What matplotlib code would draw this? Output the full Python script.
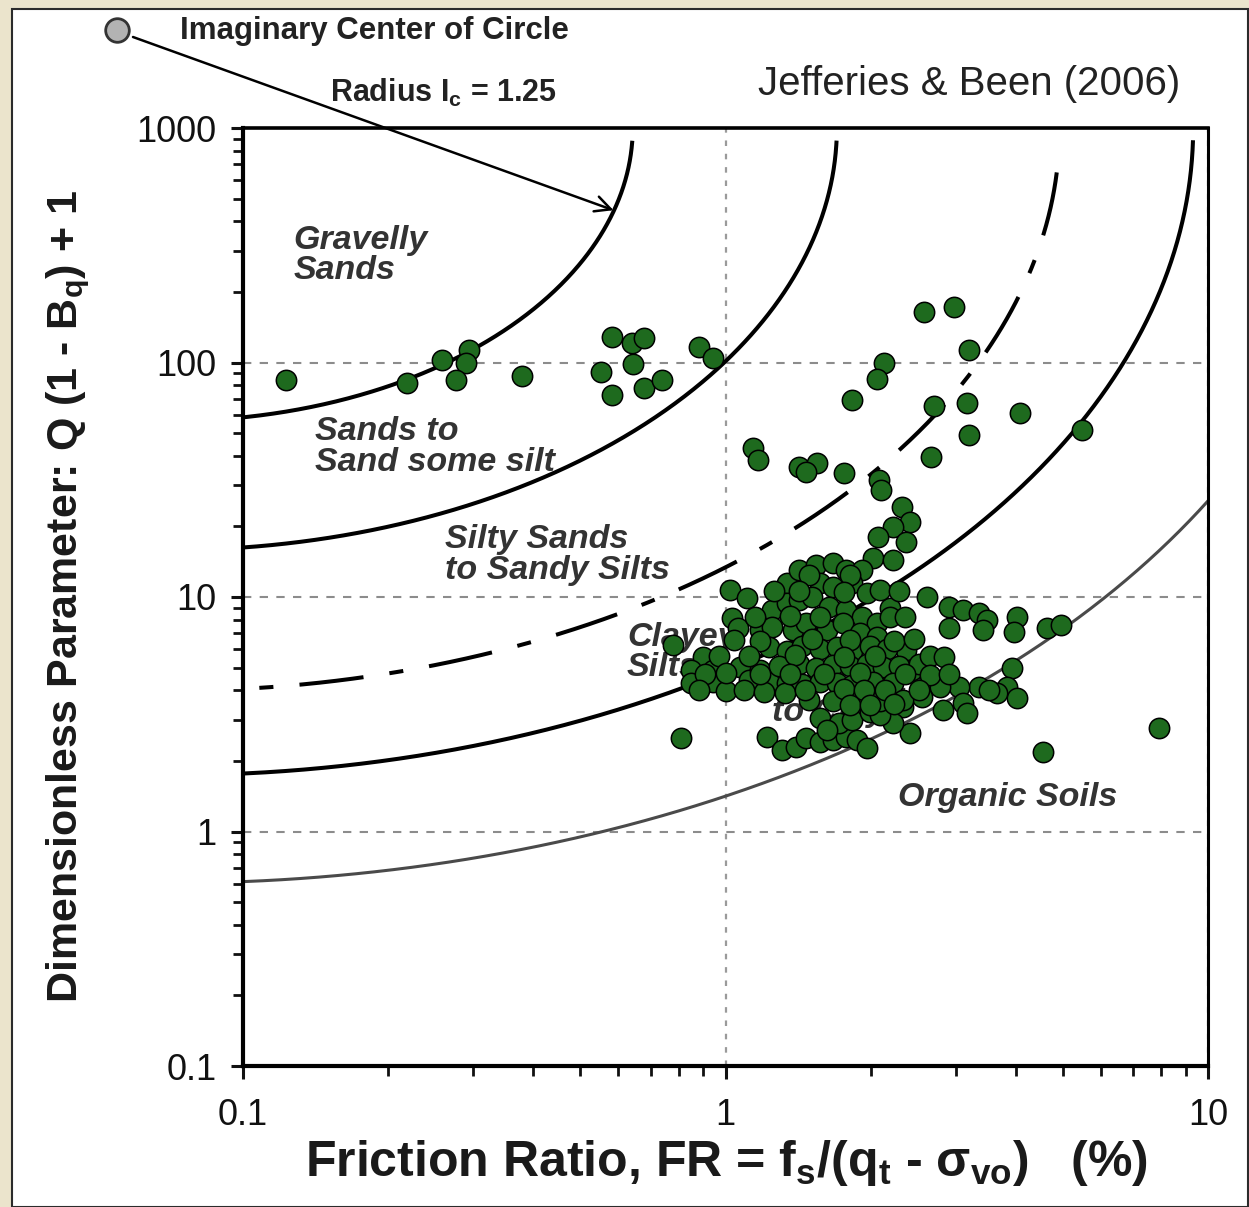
import numpy as np
import matplotlib.pyplot as plt
from matplotlib.patches import Rectangle
from matplotlib.ticker import FuncFormatter, NullFormatter

plt.rcParams['font.family'] = ['Liberation Sans', 'DejaVu Sans']
plt.rcParams['mathtext.fontset'] = 'custom'
plt.rcParams['mathtext.rm'] = 'Liberation Sans:bold'
plt.rcParams['mathtext.it'] = 'Liberation Sans:bold'
plt.rcParams['mathtext.bf'] = 'Liberation Sans:bold'
plt.rcParams['mathtext.default'] = 'rm'

# Soil behaviour type boundaries, Ic (Jefferies & Been 2006)
ic_solid = [1.25, 1.80, 2.76]
ic_dashdot = 2.40
ic_organic = 3.22

# CPT points: friction ratio FR (%) and Q(1 - Bq) + 1
friction_ratio = [
    # sands, Q around 100
    0.123, 0.219, 0.259, 0.294, 0.290, 0.277, 0.378, 0.581, 0.639, 0.679,
    0.642, 0.553, 0.583, 0.679, 0.737, 0.883, 0.940,
    # upper right scatter
    2.58, 2.98, 3.20, 2.13, 2.06, 1.83, 2.71, 3.16, 4.07, 5.47,
    3.19, 2.66, 1.14, 1.17, 1.42, 1.55, 1.47, 1.76, 2.08, 2.10,
    2.32, 2.41, 2.22, 2.07, 2.37, 2.02, 2.22,
    # right side of the cluster
    2.19, 2.61, 2.91, 3.10, 3.36, 3.48, 2.91, 3.41, 4.01, 3.97,
    4.63, 4.97, 3.92, 3.84, 4.01, 3.65, 3.36, 3.05, 2.78, 3.10,
    2.82, 2.56, 3.16, 2.37, 2.44, 2.22, 2.33, 2.41, 2.22, 4.54, 7.93,
    # lower edge
    0.81, 1.22, 1.31, 1.40, 1.47, 1.57, 1.67, 1.78, 1.87, 1.96,
    1.57, 1.72, 1.83, 1.62, 1.99, 2.09,
    # left edge
    1.02, 1.11, 1.03, 1.06, 1.18, 0.78, 0.90, 0.85, 0.94, 0.85,
    0.94, 1.07, 1.12, 1.18, 1.23,
    # cluster core
    1.34, 1.42, 1.54, 1.67, 1.78, 1.92, 1.57, 1.67, 1.83, 1.96,
    1.25, 1.34, 1.42, 1.51, 1.64, 1.78, 1.92, 2.06, 1.25, 1.38,
    1.47, 1.62, 1.75, 1.90, 2.06,
    1.23, 1.34, 1.44, 1.57, 1.70, 1.83, 1.99, 2.16,
    1.29, 1.42, 1.54, 1.67, 1.81, 1.96, 2.12, 2.29, 2.52,
    1.34, 1.44, 1.57, 1.70, 1.83, 2.02, 2.22,
    1.49, 1.67, 1.87, 2.09, 2.33,
    1.00, 1.09, 1.20, 1.33,
    1.49, 1.81,
    1.26, 1.42, 1.76, 2.09, 2.29,
    1.15, 1.36, 1.57, 2.19, 2.35,
    1.04, 1.18, 1.51, 1.81, 2.24, 2.46,
    0.97, 1.12, 1.39, 1.76, 2.04, 2.65, 2.84,
    0.905, 1.00, 1.18, 1.36, 1.60, 1.90, 2.35, 2.65, 2.91,
    0.883, 1.46, 1.76, 1.94, 2.14, 2.52, 3.52,
    1.81, 1.99, 2.24,
]
q_norm = [
    84, 82, 102, 113, 100, 84, 88, 128, 121, 127,
    99, 91, 73, 78, 84, 116, 105,
    164, 172, 113, 100, 85, 69, 65, 67, 61, 51.5,
    49, 39.5, 43, 38.4, 35.8, 37.2, 34.1, 33.8, 31.5, 28.6,
    24.2, 20.9, 19.9, 18.0, 17.2, 14.7, 14.4,
    9.0, 10.0, 9.07, 8.8, 8.55, 7.98, 7.38, 7.23, 8.22, 7.09,
    7.38, 7.6, 4.98, 4.14, 3.71, 3.9, 4.14, 4.14, 4.14, 3.53,
    3.3, 3.75, 3.21, 5.95, 4.89, 4.43, 3.4, 2.63, 2.9, 2.19, 2.77,
    2.51, 2.53, 2.23, 2.30, 2.51, 2.41, 2.46, 2.53, 2.46, 2.27,
    3.05, 2.90, 2.99, 2.71, 3.24, 3.14,
    10.7, 9.9, 8.14, 7.38, 7.23, 6.24, 5.55, 4.89, 4.89, 4.30,
    4.35, 5.03, 4.43, 4.89, 4.35,
    11.5, 13.0, 13.7, 14.0, 13.0, 13.0, 11.5, 11.0, 11.5, 10.4,
    8.8, 9.43, 9.71, 10.0, 9.07, 8.8, 8.22, 7.75, 7.45, 7.23,
    7.75, 7.23, 7.75, 7.03, 6.76,
    6.1, 5.9, 6.2, 6.0, 6.1, 5.9, 6.2, 6.0,
    5.1, 5.2, 5.0, 5.15, 5.1, 5.2, 5.05, 5.1, 5.2,
    4.3, 4.25, 4.35, 4.3, 4.2, 4.35, 4.3,
    3.65, 3.6, 3.7, 3.6, 3.65,
    3.98, 4.0, 3.95, 3.9,
    12.4, 12.4,
    10.6, 10.6, 10.5, 10.7, 10.6,
    8.2, 8.3, 8.2, 8.25, 8.2,
    6.56, 6.5, 6.6, 6.55, 6.5, 6.6,
    5.61, 5.6, 5.65, 5.55, 5.6, 5.6, 5.55,
    4.7, 4.72, 4.68, 4.7, 4.7, 4.75, 4.7, 4.65, 4.7,
    4.02, 4.0, 4.05, 4.0, 4.02, 4.0, 4.02,
    3.47, 3.45, 3.5,
]

x_ticks = [0.1, 1, 10]
y_ticks = [0.1, 1, 10, 100, 1000]

zones = [
    ("Gravelly\nSands", 0.052, 0.864),
    ("Sands to\nSand some silt", 0.075, 0.660),
    ("Silty Sands\nto Sandy Silts", 0.209, 0.545),
    ("Clayey\nSilts", 0.398, 0.441),
    ("Silty Clays\nto Clay", 0.548, 0.393),
    ("Organic Soils", 0.679, 0.286),
]

W, H = 1249, 1207


def fxy(x, y):
    # pixel position -> figure fraction
    return x / W, 1 - y / H


def ic_boundary(ic, q_top=870.0):
    t = np.linspace(0, np.pi / 2, 500)
    u = ic * np.sin(t)
    v = ic * np.cos(t)
    log_f = (u - 1.5) / 1.3
    log_q = 3.0 - v
    keep = log_q <= np.log10(q_top)
    return 10 ** log_f[keep], 10 ** log_q[keep]


fig = plt.figure(figsize=(W / 100, H / 100), dpi=100)
fig.patch.set_facecolor('#ebe4cc')
fig.add_artist(Rectangle((12 / W, 0), (W - 13) / W, 1 - 9 / H,
                         transform=fig.transFigure, facecolor='white',
                         edgecolor='#2b2b2b', lw=1.5, zorder=-1))

ax = fig.add_axes([243 / W, 1 - 1066 / H, 965 / W, 938 / H])
ax.set_xscale('log')
ax.set_yscale('log')
ax.set_xlim(0.1, 10)
ax.set_ylim(0.1, 1000)

ax.grid(True, which='major', axis='y', ls=(0, (4, 4)), color='#8c8c8c', lw=1.5)
ax.grid(True, which='major', axis='x', ls=(0, (2.5, 3.5)), color='#9a9a9a', lw=1.6)

for ic in ic_solid:
    f, q = ic_boundary(ic)
    ax.plot(f, q, color='black', lw=2.9, zorder=2)
f, q = ic_boundary(ic_dashdot, q_top=820.0)
ax.plot(f, q, color='black', lw=2.9, zorder=2, dashes=(16, 6.5, 3.5, 6.5))
f, q = ic_boundary(ic_organic)
ax.plot(f, q, color='#4a4a4a', lw=2.2, zorder=2)

for label, x, y in zones:
    ax.text(x, y, label, transform=ax.transAxes, ha='left', va='center',
            fontsize=24.5, fontweight='bold', style='italic', color='#333333',
            linespacing=0.98, zorder=2.5)

ax.scatter(friction_ratio, q_norm, s=215, c='#1e6a1e', edgecolors='black',
           linewidths=1.1, zorder=3)

ax.set_xticks(x_ticks)
ax.set_yticks(y_ticks)
fmt = FuncFormatter(lambda v, _: f'{v:g}')
ax.xaxis.set_major_formatter(fmt)
ax.yaxis.set_major_formatter(fmt)
ax.xaxis.set_minor_formatter(NullFormatter())
ax.yaxis.set_minor_formatter(NullFormatter())
ax.tick_params(which='major', direction='out', length=9, width=2.2,
               labelsize=26, colors='#111111')
ax.tick_params(axis='x', which='major', pad=14)
ax.tick_params(axis='y', which='major', pad=10)
ax.tick_params(which='minor', direction='out', length=7, width=2, colors='#111111')

ax.spines['left'].set_linewidth(3.0)
ax.spines['bottom'].set_linewidth(3.0)
ax.spines['top'].set_linewidth(2.6)
ax.spines['right'].set_linewidth(2.2)

fig.text(*fxy(726, 1163), r'Friction Ratio, FR = f$_s$/(q$_t$ - σ$_{vo}$)   (%)',
         ha='center', va='center', fontsize=36, fontweight='bold', color='#1a1a1a')
fig.text(*fxy(68, 597), r'Dimensionless Parameter: Q (1 - B$_q$) + 1',
         ha='center', va='center', rotation=90, fontsize=31, fontweight='bold',
         color='#1a1a1a')

fig.text(*fxy(758, 84), 'Jefferies & Been (2006)', ha='left', va='center',
         fontsize=29, color='#222222')
fig.text(*fxy(180, 31), 'Imaginary Center of Circle', ha='left', va='center',
         fontsize=22.5, fontweight='bold', color='#222222')
fig.text(*fxy(330, 93), r'Radius I$_c$ = 1.25', ha='left', va='center',
         fontsize=22, fontweight='bold', color='#222222')

# centre marker and radius arrow to the Ic = 1.25 boundary
cx, cy = fxy(117, 30)
fig.add_artist(plt.Line2D([cx], [cy], marker='o', markersize=17,
                          markerfacecolor='#b3b3b3', markeredgecolor='#333333',
                          markeredgewidth=2, transform=fig.transFigure))
ax.annotate('', xy=(0.586, 446), xycoords='data',
            xytext=fxy(133, 37), textcoords='figure fraction',
            arrowprops=dict(arrowstyle='->', lw=1.8, color='black',
                            shrinkA=0, shrinkB=0, mutation_scale=28),
            annotation_clip=False, zorder=4)

fig.savefig('out.png', dpi=100, facecolor=fig.get_facecolor())
